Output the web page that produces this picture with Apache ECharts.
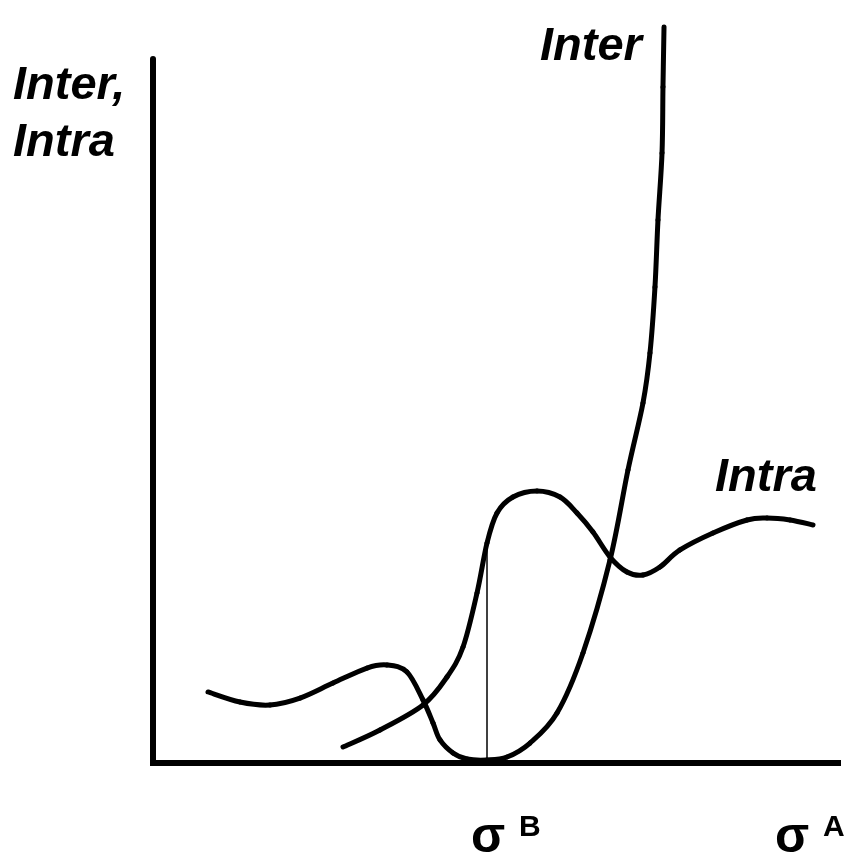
<!DOCTYPE html>
<html>
<head>
<meta charset="utf-8">
<script src="https://cdn.jsdelivr.net/npm/echarts@6/dist/echarts.min.js"></script>
<style>
  html, body { margin: 0; padding: 0; background: #ffffff; }
  #chart { width: 846px; height: 860px; }
</style>
</head>
<body>
<div id="chart"></div>
<script>
// values, x: 0..100 along sigma, y: 0..100 up the axis
var interX = [8.03, 12.70, 17.08, 21.46, 26.28, 31.24, 34.16, 37.08, 39.42, 40.88, 41.90, 43.80, 45.84, 48.76,
    51.68, 55.04, 58.98, 62.77, 66.72, 69.34, 71.53, 72.55, 73.28, 73.72, 74.31, 74.45, 74.60];
var interY = [10.09, 8.66, 8.24, 9.23, 11.36, 13.49, 13.92, 12.93, 8.95, 5.68, 3.27, 1.42, 0.57, 0.43,
    0.85, 2.84, 7.10, 15.63, 28.84, 41.62, 51.14, 58.24, 67.61, 77.13, 86.65, 96.02, 104.55];

var intraX = [27.74, 33.14, 39.42, 42.92, 45.26, 47.30, 48.76, 50.22, 52.55, 56.06, 59.42, 61.90, 64.23,
    66.72, 69.20, 71.53, 74.01, 76.93, 81.75, 86.72, 89.64, 92.99, 96.35];
var intraY = [2.27, 4.69, 8.24, 12.22, 16.48, 24.15, 31.25, 35.51, 37.78, 38.64, 37.78, 35.51, 32.81,
    29.26, 27.13, 26.70, 27.84, 30.26, 32.67, 34.52, 34.80, 34.52, 33.81];

var sigmaB = 48.76;
var sigmaBIndex = 6; // intra point sitting on sigma B

// smooth curve through the points (catmull-rom as bezier pieces), placed with api.coord
function curveRenderer(xs, ys) {
    return function (params, api) {
        var pts = [];
        for (var i = 0; i < xs.length; i++) {
            pts.push(api.coord([xs[i], ys[i]]));
        }
        var n = pts.length;
        var children = [];
        for (var j = 0; j < n - 1; j++) {
            var p0 = pts[Math.max(j - 1, 0)];
            var p1 = pts[j];
            var p2 = pts[j + 1];
            var p3 = pts[Math.min(j + 2, n - 1)];
            children.push({
                type: 'bezierCurve',
                shape: {
                    x1: p1[0], y1: p1[1],
                    x2: p2[0], y2: p2[1],
                    cpx1: p1[0] + (p2[0] - p0[0]) / 6,
                    cpy1: p1[1] + (p2[1] - p0[1]) / 6,
                    cpx2: p2[0] - (p3[0] - p1[0]) / 6,
                    cpy2: p2[1] - (p3[1] - p1[1]) / 6
                },
                style: { stroke: '#000', lineWidth: 5, fill: null, lineCap: 'round' }
            });
        }
        return { type: 'group', children: children };
    };
}

var chartDom = echarts.init(document.getElementById('chart'));
var font = "'Liberation Sans', Arial, sans-serif";

var sigmaRich = {
    s: { font: 'bold 50px ' + font, fill: '#000', verticalAlign: 'bottom' },
    p: { font: 'bold 30px ' + font, fill: '#000', verticalAlign: 'top', padding: [0, 0, 12, 0] }
};

var options = {
    backgroundColor: '#ffffff',
    animation: false,
    grid: {
        left: 153,
        right: 8,
        top: 59,
        bottom: 97,
        outerBoundsMode: 'none'
    },
    xAxis: {
        type: 'value',
        min: 0,
        max: 100,
        axisLine: { show: true, lineStyle: { color: '#000', width: 6, cap: 'square' } },
        axisTick: { show: false },
        axisLabel: { show: false },
        splitLine: { show: false }
    },
    yAxis: {
        type: 'value',
        min: 0,
        max: 100,
        axisLine: { show: true, lineStyle: { color: '#000', width: 6 } },
        axisTick: { show: false },
        axisLabel: { show: false },
        splitLine: { show: false }
    },
    series: [
        {
            name: 'Inter',
            type: 'custom',
            coordinateSystem: 'cartesian2d',
            clip: false,
            silent: true,
            data: [[interX[0], interY[0]]],
            renderItem: curveRenderer(interX, interY)
        },
        {
            name: 'Intra',
            type: 'custom',
            coordinateSystem: 'cartesian2d',
            clip: false,
            silent: true,
            data: [[intraX[0], intraY[0]]],
            renderItem: curveRenderer(intraX, intraY),
            markLine: {
                silent: true,
                symbol: 'none',
                label: { show: false },
                lineStyle: { color: '#000', width: 1.5, type: 'solid' },
                data: [[
                    { coord: [sigmaB, 0] },
                    { coord: [sigmaB, intraY[sigmaBIndex]] }
                ]]
            }
        }
    ],
    graphic: [
        {
            type: 'text', left: 13, top: 58,
            style: { text: 'Inter,\nIntra', font: 'italic bold 47px ' + font, lineHeight: 57, fill: '#000' }
        },
        {
            type: 'text', left: 540, top: 24,
            style: { text: 'Inter', font: 'italic bold 47px ' + font, fill: '#000' }
        },
        {
            type: 'text', left: 715, top: 455,
            style: { text: 'Intra', font: 'italic bold 47px ' + font, fill: '#000' }
        },
        {
            type: 'text', left: 471, top: 813,
            style: { text: '{s|σ }{p|B}', rich: sigmaRich }
        },
        {
            type: 'text', left: 775, top: 813,
            style: { text: '{s|σ }{p|A}', rich: sigmaRich }
        }
    ]
};

chartDom.setOption(options, true);
</script>
</body>
</html>
